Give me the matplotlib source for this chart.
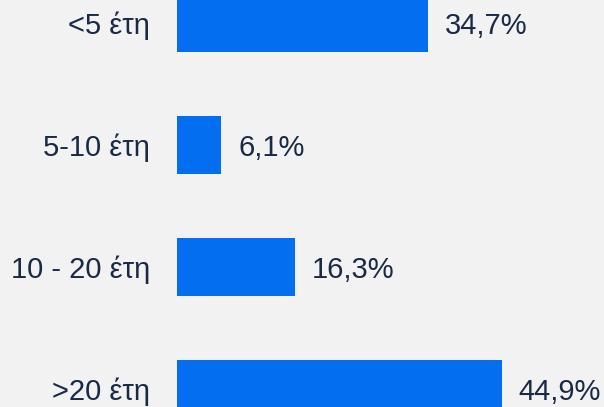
import matplotlib
matplotlib.use("Agg")
import matplotlib.pyplot as plt

categories = ["<5 έτη", "5-10 έτη", "10 - 20 έτη", ">20 έτη"]
values = [34.7, 6.1, 16.3, 44.9]
value_labels = ["34,7%", "6,1%", "16,3%", "44,9%"]

bg = "#f2f2f2"
bar_color = "#036eef"
text_color = "#192946"

plt.rcParams['font.family'] = ['Liberation Sans', 'DejaVu Sans']

W, H, dpi = 604, 407, 100
fig = plt.figure(figsize=(W / dpi, H / dpi), dpi=dpi, facecolor=bg)
x0 = 177
ax = fig.add_axes([x0 / W, 0, (W - x0) / W, 1])
ax.set_facecolor(bg)

pos = list(range(len(categories)))
ax.barh(pos, values, height=58 / 122, color=bar_color, zorder=2)

ax.set_xlim(0, (W - x0) / 7.23)
top = -23 / 122
ax.set_ylim(top + H / 122, top)

ax.set_yticks([])
ax.set_xticks([])
for s in ax.spines.values():
    s.set_visible(False)

pt = 72 / dpi
for p, v, lab, cat in zip(pos, values, value_labels, categories):
    ax.annotate(lab, (v, p), xytext=(17 * pt, -11.5 * pt), textcoords='offset points',
                ha='left', va='baseline', fontsize=21, color=text_color,
                annotation_clip=False)
    ax.annotate(cat, (0, p), xytext=(-27 * pt, -11.5 * pt), textcoords='offset points',
                ha='right', va='baseline', fontsize=21, color=text_color,
                annotation_clip=False)

fig.savefig("out.png", dpi=dpi, facecolor=bg)
